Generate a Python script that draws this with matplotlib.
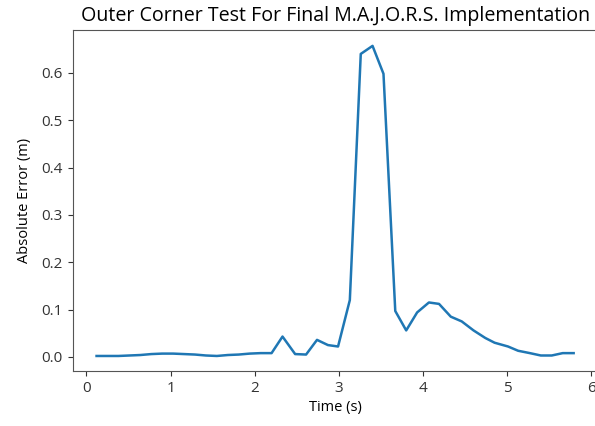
import matplotlib
matplotlib.use("Agg")
import matplotlib.pyplot as plt

plt.rcParams['font.family'] = ['Open Sans', 'DejaVu Sans']

# Sample times (s) and absolute tracking error (m)
time_s = [0.12, 0.25, 0.38, 0.51, 0.64, 0.77, 0.90, 1.03, 1.16, 1.29,
          1.42, 1.55, 1.68, 1.81, 1.94, 2.07, 2.20, 2.33, 2.48, 2.61,
          2.74, 2.87, 2.99, 3.13, 3.26, 3.40, 3.53, 3.67, 3.80, 3.93,
          4.07, 4.19, 4.33, 4.46, 4.60, 4.74, 4.85, 5.01, 5.13, 5.27,
          5.40, 5.53, 5.66, 5.79]
abs_error = [0.002, 0.002, 0.002, 0.003, 0.004, 0.006, 0.007, 0.007, 0.006, 0.005,
             0.003, 0.002, 0.004, 0.005, 0.007, 0.008, 0.008, 0.043, 0.006, 0.005,
             0.036, 0.025, 0.022, 0.120, 0.640, 0.657, 0.598, 0.097, 0.056, 0.094,
             0.115, 0.112, 0.085, 0.075, 0.056, 0.040, 0.030, 0.022, 0.013, 0.008,
             0.003, 0.003, 0.008, 0.008]

title = "Outer Corner Test For Final M.A.J.O.R.S. Implementation"
x_label = "Time (s)"
y_label = "Absolute Error (m)"

fig = plt.figure(figsize=(5.95, 4.26), dpi=100)
ax = fig.add_axes([0.1222, 0.128, 0.882, 0.8007])
ax.plot(time_s, abs_error, color='#1f77b4', linewidth=1.8)
ax.set_title(title, fontsize=14.1, pad=7)
ax.set_xlabel(x_label, fontsize=10.5, labelpad=3)
ax.set_ylabel(y_label, fontsize=10.5, labelpad=7)
ax.tick_params(labelsize=11, colors='#333333')
for s in ax.spines.values():
    s.set_color('#555555')

fig.savefig("out.png", dpi=100)
